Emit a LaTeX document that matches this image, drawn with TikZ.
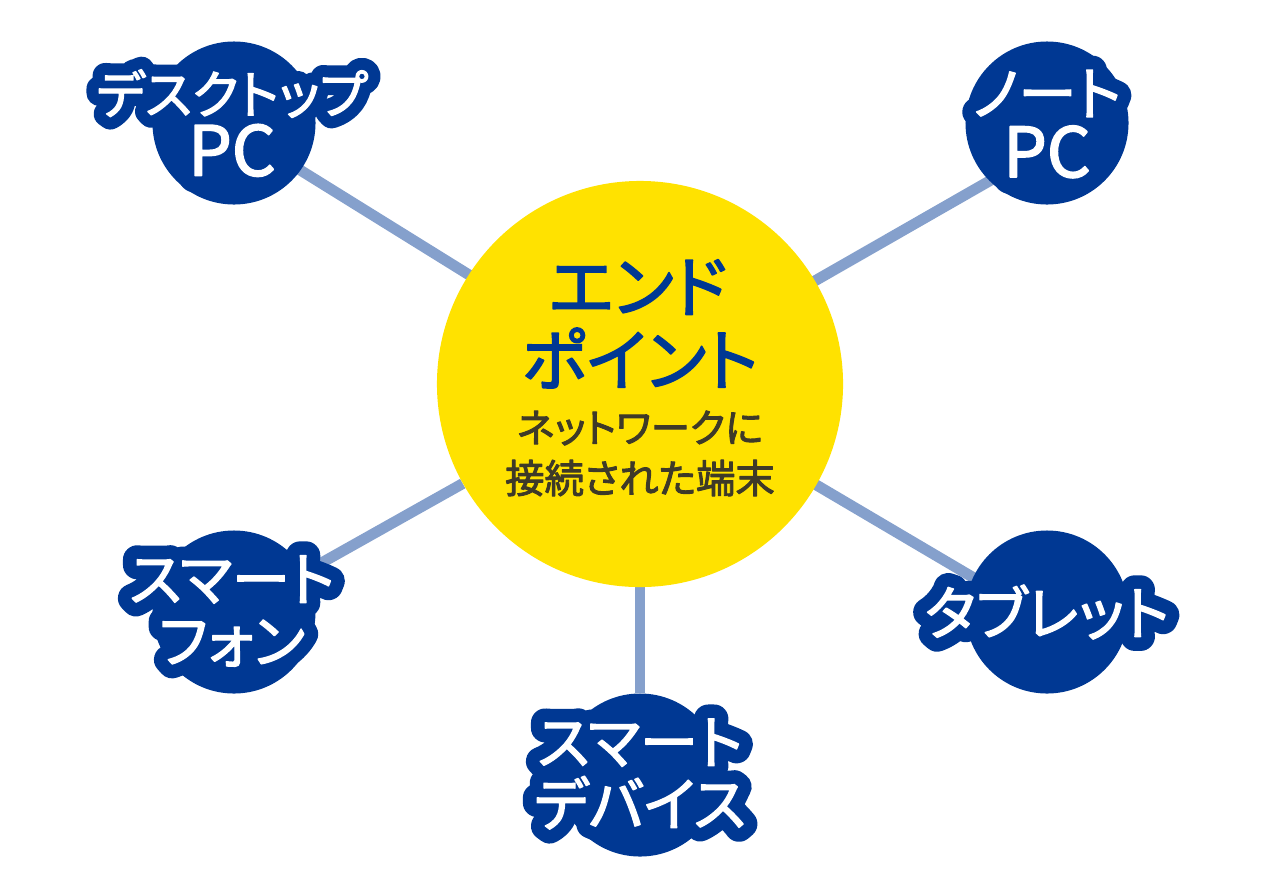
\documentclass[tikz,border=0pt]{standalone}
\usepackage{fontspec}
\setmainfont{Noto Sans CJK JP}
\newfontfamily\plainfont[RawFeature={+palt},FakeBold=2.4]{Noto Sans CJK JP}
\newfontfamily\edgefont[RawFeature={+palt},FakeBold=49]{Noto Sans CJK JP}
\usetikzlibrary{backgrounds}
\definecolor{navyblue}{RGB}{0,56,147}
\definecolor{linkblue}{RGB}{133,160,204}
\definecolor{hubyellow}{RGB}{255,226,0}
\definecolor{subbrown}{RGB}{62,58,40}
\tikzset{
	x=0.025cm, y=-0.025cm,
	leaf/.style={circle, fill=navyblue, minimum size=4.075cm, inner sep=0pt},
	hub/.style={circle, fill=hubyellow, minimum size=10.15cm, inner sep=0pt},
	link/.style={draw=linkblue, line width=0.27cm},
	leaftext/.style={align=center, inner sep=0pt, text=white},
	hubtitle/.style={text=navyblue, inner sep=0pt, font=\plainfont\fontsize{48}{48}\selectfont},
	hubsub/.style={text=subbrown, inner sep=0pt, font=\plainfont\fontsize{28}{28}\selectfont}
}
\newcommand{\pclabel}{{\fontsize{49}{44}\selectfont PC}}
% white text with a thick blue edge, PC gets no edge
\newcommand{\edgetext}[4][41.5]{
	\node[leaftext, text=navyblue, font=\edgefont\fontsize{#1}{44}\selectfont] (#2edge) at (#3) {\renewcommand{\pclabel}{\fontsize{49}{44}\selectfont\phantom{PC}}#4};
	\node[leaftext, font=\plainfont\fontsize{#1}{44}\selectfont] (#2) at (#3) {#4};
}
\begin{document}
\begin{tikzpicture}[line join=round, line cap=round]
	\useasboundingbox (0,0) rectangle (1280,870);
	%%%%% START %%%%%
	\node[hub] (endpoint) at (640,384) {};
	\node[leaf] (desktop) at (234,123) {};
	\node[leaf] (note) at (1047,123) {};
	\node[leaf] (phone) at (234,612) {};
	\node[leaf] (device) at (640,775) {};
	\node[leaf] (tablet) at (1047,612) {};

	\coordinate (hubmid) at (640,381);
	\coordinate (deskend) at (234,129);
	\coordinate (noteend) at (1047,148);
	\coordinate (tabend) at (1047,621);

	\begin{scope}[on background layer, line cap=butt]
		\draw[link] (hubmid) -- (deskend);
		\draw[link] (hubmid) -- (noteend);
		\draw[link] (endpoint) -- (phone);
		\draw[link] (endpoint) -- (device);
		\draw[link] (hubmid) -- (tabend);
	\end{scope}

	\edgetext[37]{desktoplabel}{232,123}{デスクトップ\\\pclabel}
	\edgetext{notelabel}{1047,124}{ノート\\\pclabel}
	\edgetext{phonelabel}{232,611}{スマート\\フォン}
	\edgetext{devicelabel}{640,774}{スマート\\デバイス}
	\edgetext{tabletlabel}{1047,612}{タブレット}

	\node[hubtitle] (titletop) at (638,287) {エンド};
	\node[hubtitle] (titlelow) at (640,358) {ポイント};
	\node[hubsub] (subtop) at (640,428) {ネットワークに};
	\node[hubsub] (sublow) at (640,478) {接続された端末};
	%%%%% END %%%%%
\end{tikzpicture}
\end{document}
